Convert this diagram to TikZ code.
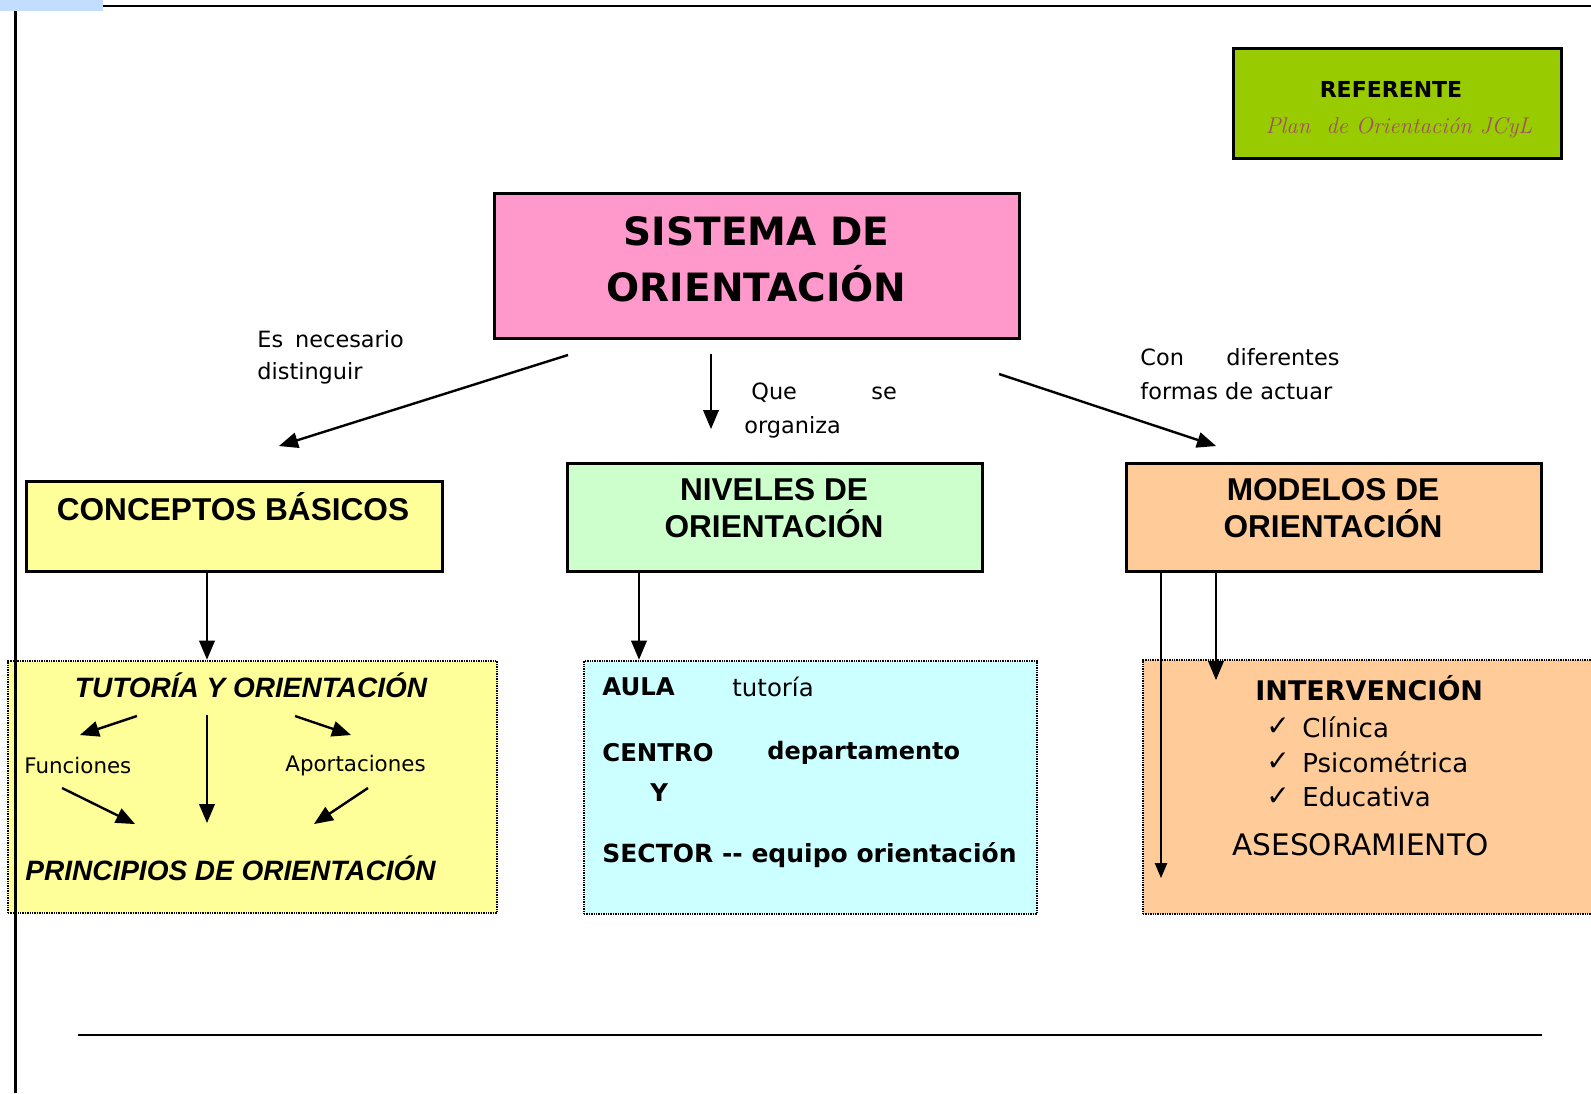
\documentclass[tikz,border=0pt]{standalone}
\usepackage{fontspec}
\usepackage{tikz}
\usetikzlibrary{positioning}
\usetikzlibrary{arrows}
\usetikzlibrary{calc}

\newfontfamily\comic{DejaVu Sans}
\newfontfamily\arial{Liberation Sans}

\definecolor{rosa}{HTML}{FF99CC}
\definecolor{amarillo}{HTML}{FFFF99}
\definecolor{verdeclaro}{HTML}{CCFFCC}
\definecolor{salmon}{HTML}{FFCC99}
\definecolor{celeste}{HTML}{CCFFFF}
\definecolor{pistacho}{HTML}{99CC00}
\definecolor{azulpag}{HTML}{C2DDFF}
\definecolor{malva}{RGB}{160,82,95}

\begin{document}
\begin{tikzpicture}[x=0.5pt, y=-0.5pt, >=triangle 45,
	box/.style={draw, line width=1.5pt, inner sep=0pt},
	dotbox/.style={draw, dash pattern=on 0.7pt off 0.5pt, line width=1.4pt, inner sep=0pt},
	arr/.style={->, line width=1.2pt},
	txt/.style={anchor=west, inner sep=0pt},
	titulo/.style={inner sep=0pt, align=center, font=\arial\bfseries\fontsize{15.8}{18.8}\selectfont}]

	 \clip (0,0) rectangle (1591,1093);
	 \fill[white] (0,0) rectangle (1591,1093);

	 % Referente
	 \node[box, fill=pistacho, minimum width=164pt, minimum height=55pt] (ref) at (1397,103) {};
	 \node[inner sep=0pt, font=\comic\bfseries\fontsize{11}{13}\selectfont] (refT) at (1391,89) {REFERENTE};
	 \node[inner sep=0pt, text=malva, font=\rmfamily\itshape\fontsize{11.4}{13}\selectfont] (refP) at (1399,128) {Plan\ \ de Orientación JCyL};

	 % Main box and the three branches
	 \node[box, fill=rosa, minimum width=262.5pt, minimum height=72.5pt] (sistema) at (756.5,265.5) {};
	 \node[inner sep=0pt, align=center, font=\comic\bfseries\fontsize{19.5}{28}\selectfont] (sistemaT) at (756.5,259) {SISTEMA DE\\ORIENTACIÓN};

	 \node[box, fill=amarillo, minimum width=208pt, minimum height=45pt] (conceptos) at (234,526) {};
	 \node[box, fill=verdeclaro, minimum width=207.5pt, minimum height=54pt] (niveles) at (774.5,517) {};
	 \node[box, fill=salmon, minimum width=207.5pt, minimum height=54pt] (modelos) at (1333.5,517) {};
	 \node[titulo] (conceptosT) at (233,507) {CONCEPTOS BÁSICOS};
	 \node[titulo] (nivelesT) at (774,508) {NIVELES DE\\ORIENTACIÓN};
	 \node[titulo] (modelosT) at (1333,508) {MODELOS DE\\ORIENTACIÓN};

	 % Arrow labels
	 \node[txt, font=\comic\fontsize{11.2}{13}\selectfont] (es) at (257,339) {Es\hspace{6pt}necesario};
	 \node[txt, font=\comic\fontsize{11.2}{13}\selectfont] (dist) at (257,373) {distinguir};
	 \node[txt, font=\comic\fontsize{11.2}{13}\selectfont] (que) at (751,393) {Que};
	 \node[txt, font=\comic\fontsize{11.2}{13}\selectfont] (se) at (871,393) {se};
	 \node[txt, font=\comic\fontsize{11.2}{13}\selectfont] (org) at (744,427) {organiza};
	 \node[txt, font=\comic\fontsize{11.2}{13}\selectfont] (con) at (1140,357) {Con};
	 \node[txt, font=\comic\fontsize{11.2}{13}\selectfont] (dif) at (1226,357) {diferentes};
	 \node[txt, font=\comic\fontsize{11.2}{13}\selectfont] (formas) at (1140,391) {formas de actuar};

	 \coordinate (sisL) at (568,355);
	 \coordinate (sisC) at (711,354);
	 \coordinate (sisR) at (999,374);
	 \coordinate (conT) at (279,446);
	 \coordinate (nivT) at (711,429);
	 \coordinate (modT) at (1216,446);
	 \draw[arr] (sisL) -- (conT);
	 \draw[arr] (sisC) -- (nivT);
	 \draw[arr] (sisR) -- (modT);

	 % Lower boxes
	 \node[dotbox, fill=amarillo, minimum width=244.5pt, minimum height=126pt] (tutoria) at (252.5,787) {};
	 \node[dotbox, fill=celeste, minimum width=226.5pt, minimum height=126.5pt] (aula) at (810.5,787.5) {};
	 \node[dotbox, fill=salmon, minimum width=250pt, minimum height=127pt] (interv) at (1393,787) {};

	 \draw[arr] (conceptos.south -| 207,0) -- (tutoria.north -| 207,0);
	 \draw[arr] (niveles.south -| 639,0) -- (aula.north -| 639,0);
	 \coordinate (intA) at (1216,680);
	 \coordinate (intB) at (1161,878);
	 \draw[arr] (modelos.south -| intA) -- (intA);
	 \draw[->, line width=0.7pt] (modelos.south -| intB) -- (intB);

	 % Tutoria y orientacion
	 \node[inner sep=0pt, font=\arial\bfseries\itshape\fontsize{14}{16}\selectfont] (tutT) at (251,685) {TUTORÍA Y ORIENTACIÓN};
	 \node[txt, font=\comic\fontsize{10.7}{13}\selectfont] (func) at (24,766) {Funciones};
	 \node[txt, font=\comic\fontsize{10.7}{13}\selectfont] (aport) at (285,766) {Aportaciones};
	 \node[txt, font=\arial\bfseries\itshape\fontsize{14}{16}\selectfont] (princ) at (25,868) {PRINCIPIOS DE ORIENTACIÓN};
	 \coordinate (t1) at (137,716); \coordinate (t2) at (80,735);
	 \coordinate (t3) at (207,715); \coordinate (t4) at (207,823);
	 \coordinate (t5) at (295,716); \coordinate (t6) at (351,735);
	 \coordinate (f1) at (62,788);  \coordinate (f2) at (135,824);
	 \coordinate (a1) at (368,788); \coordinate (a2) at (314,824);
	 \draw[arr] (t1) -- (t2);
	 \draw[arr] (t3) -- (t4);
	 \draw[arr] (t5) -- (t6);
	 \draw[arr] (f1) -- (f2);
	 \draw[arr] (a1) -- (a2);

	 % Aula, centro, sector
	 \node[txt, font=\comic\bfseries\fontsize{12.2}{14}\selectfont] (aulaT) at (602,687) {AULA};
	 \node[txt, font=\comic\fontsize{12.2}{14}\selectfont] (tutoriaT) at (732,687) {tutoría};
	 \node[txt, font=\comic\bfseries\fontsize{12.2}{14}\selectfont] (centro) at (602,753) {CENTRO};
	 \node[txt, font=\comic\bfseries\fontsize{12}{14}\selectfont] (depto) at (767,753) {departamento};
	 \node[txt, font=\comic\bfseries\fontsize{12.2}{14}\selectfont] (yT) at (650,793) {Y};
	 \node[txt, font=\comic\bfseries\fontsize{12.5}{14}\selectfont] (sector) at (602,855) {SECTOR -{}- equipo orientación};

	 % Intervencion y asesoramiento
	 \node[txt, font=\comic\bfseries\fontsize{13.5}{16}\selectfont] (intT) at (1255,688) {INTERVENCIÓN};
	 \foreach \y/\t in {727/Clínica, 762/Psicométrica, 797/Educativa} {
	 	\node[txt, font=\comic\fontsize{14}{15}\selectfont] at (1266,\y) {✓};
	 	\node[txt, font=\comic\fontsize{13}{15}\selectfont] at (1302,\y) {\t};
	 }
	 \node[txt, font=\comic\fontsize{14.8}{17}\selectfont] (ases) at (1232,845) {ASESORAMIENTO};

	 % Page frame
	 \fill[azulpag] (0,0) rectangle (103,11);
	 \draw[line width=1pt] (103,6) -- (1591,6);
	 \draw[line width=1.5pt] (15,11) -- (15,1093);
	 \draw[line width=0.6pt] (78,1035) -- (1542,1035);
	\end{tikzpicture}
\end{document}
